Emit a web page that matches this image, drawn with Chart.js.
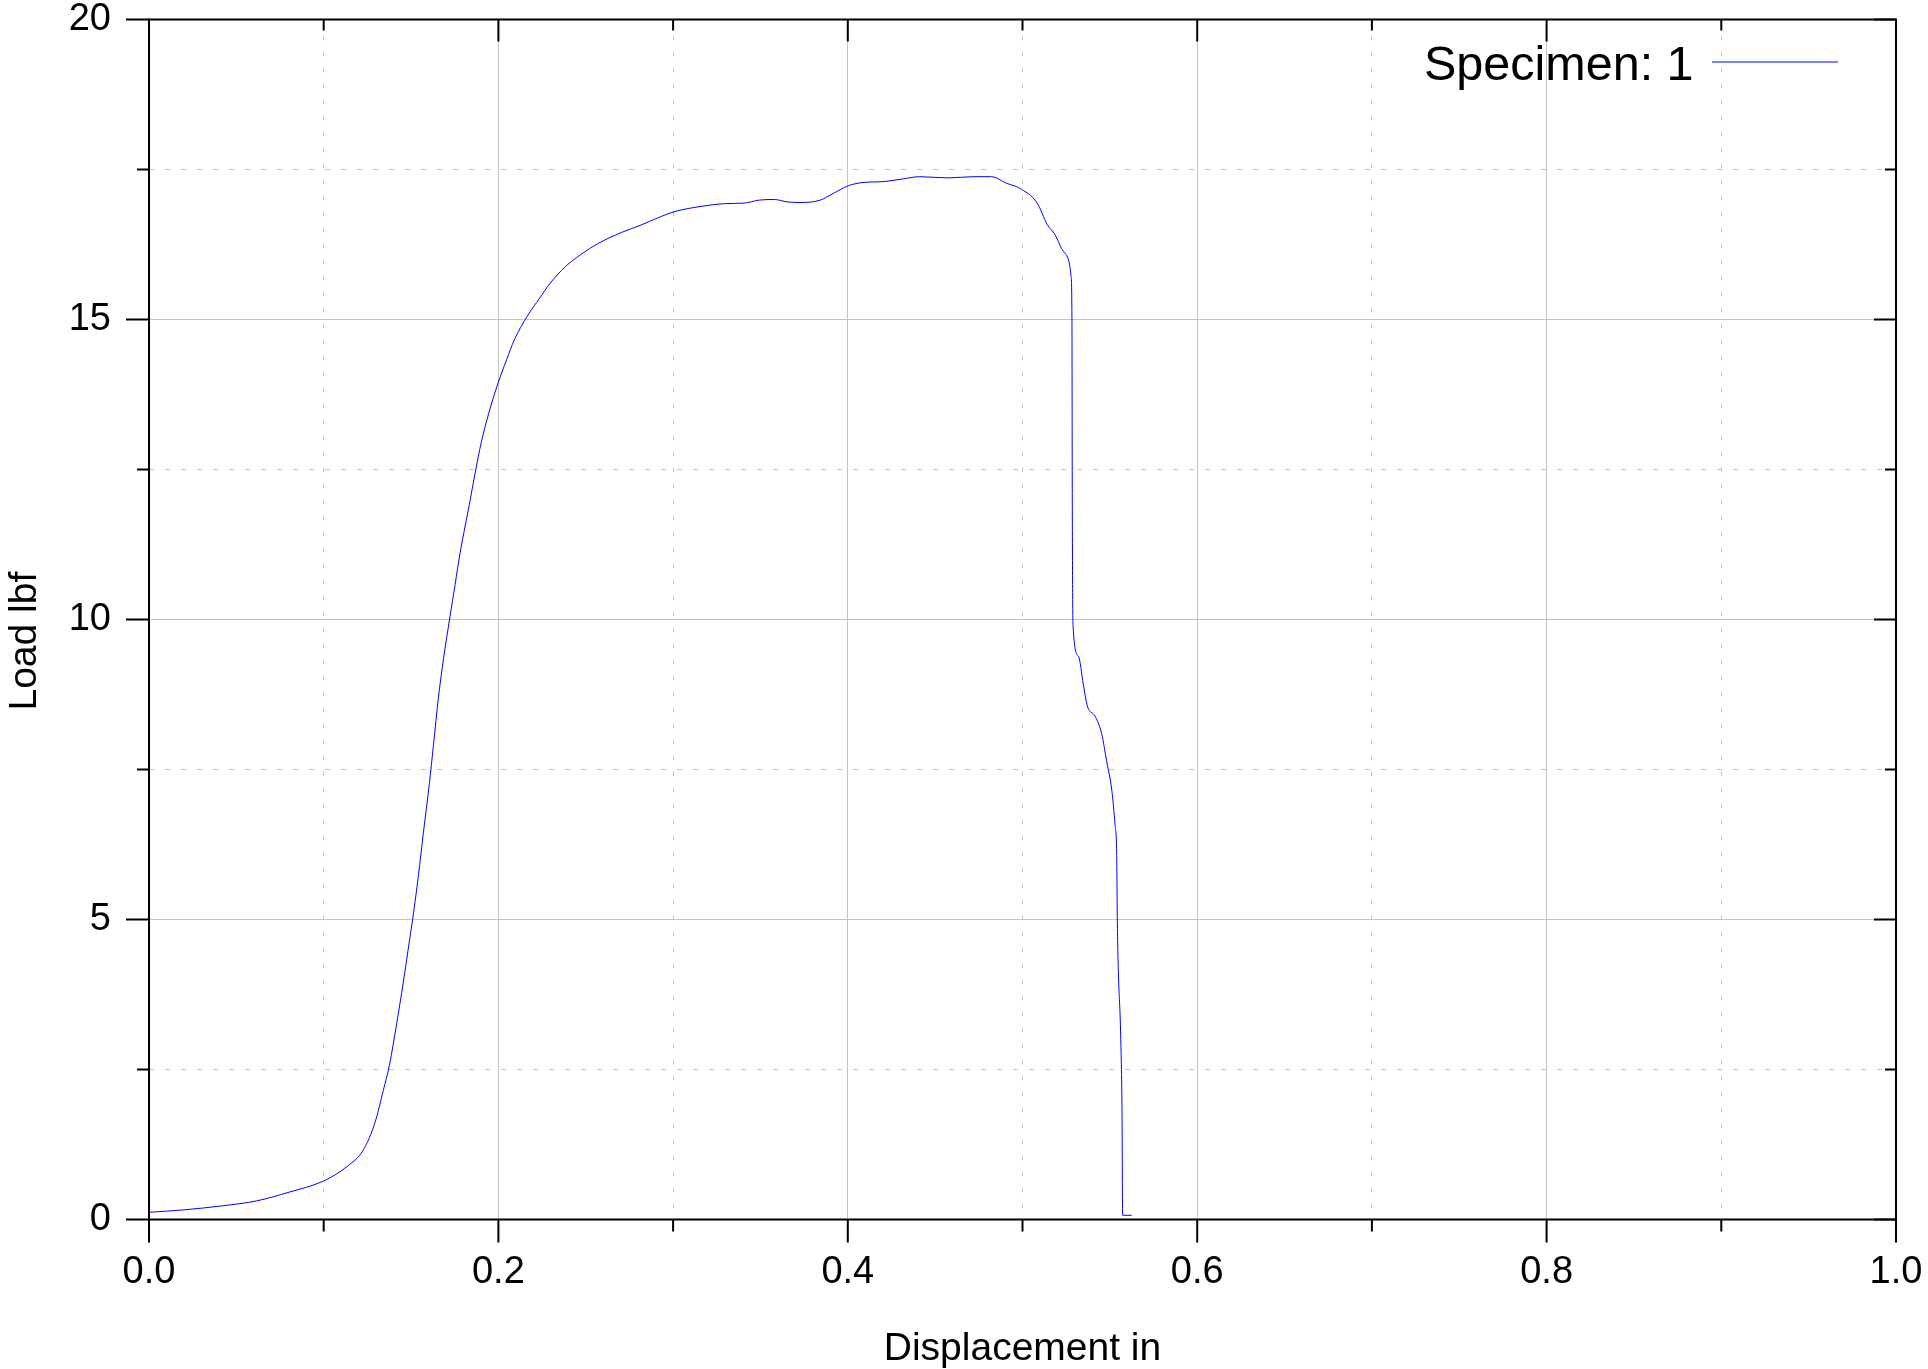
<!DOCTYPE html>
<html>
<head>
<meta charset="utf-8">
<script src="https://cdn.jsdelivr.net/npm/chart.js@4.4.1/dist/chart.umd.min.js"></script>
<style>
  html, body { margin: 0; padding: 0; background: #ffffff; }
  #wrap { width: 1928px; height: 1369px; }
</style>
</head>
<body>
<div id="wrap"><canvas id="c" width="1928" height="1369"></canvas></div>
<script>
// ---- data ----
const seriesLabel = 'Specimen: 1';
const xTitle = 'Displacement in';
const yTitle = 'Load lbf';
const xTickLabels = ['0.0', '0.2', '0.4', '0.6', '0.8', '1.0'];
const yTickLabels = ['0', '5', '10', '15', '20'];

const displacement = [
  0.0000, 0.0197, 0.0425, 0.0616, 0.0807, 0.0998, 0.1132, 0.1227, 0.1294, 0.1341,
  0.1376, 0.1418, 0.1456, 0.1484, 0.1517, 0.1542, 0.1570, 0.1605, 0.1628, 0.1656,
  0.1685, 0.1723, 0.1752, 0.1780, 0.1828, 0.1870, 0.1901, 0.1945, 0.1998, 0.2047,
  0.2091, 0.2164, 0.2237, 0.2295, 0.2383, 0.2470, 0.2573, 0.2704, 0.2821, 0.2909,
  0.3011, 0.3172, 0.3289, 0.3405, 0.3493, 0.3580, 0.3653, 0.3726, 0.3843, 0.3916,
  0.4004, 0.4077, 0.4208, 0.4310, 0.4412, 0.4573, 0.4719, 0.4822, 0.4909, 0.4982,
  0.5084, 0.5142, 0.5187, 0.5224, 0.5262, 0.5278, 0.5283, 0.5285, 0.5289, 0.5320,
  0.5348, 0.5371, 0.5415, 0.5453, 0.5482, 0.5511, 0.5530, 0.5539, 0.5543, 0.5549,
  0.5562, 0.5570, 0.5573, 0.5625
];
const load = [
  0.12, 0.16, 0.23, 0.31, 0.46, 0.64, 0.88, 1.16, 1.62, 2.15,
  2.57, 3.27, 3.96, 4.51, 5.17, 5.73, 6.43, 7.27, 7.90, 8.68,
  9.33, 10.05, 10.58, 11.10, 11.83, 12.49, 12.94, 13.44, 13.94, 14.33,
  14.66, 15.05, 15.36, 15.60, 15.88, 16.08, 16.27, 16.45, 16.58, 16.69,
  16.80, 16.89, 16.93, 16.94, 16.99, 17.00, 16.96, 16.95, 16.99, 17.10,
  17.23, 17.28, 17.30, 17.34, 17.38, 17.36, 17.38, 17.38, 17.27, 17.19,
  16.94, 16.58, 16.41, 16.18, 16.01, 15.72, 15.01, 11.96, 9.91, 9.39,
  8.92, 8.56, 8.39, 8.10, 7.63, 7.16, 6.57, 6.11, 4.93, 4.11,
  3.06, 1.65, 0.07, 0.07
];

// ---- styling ----
const FONT = '"Liberation Sans", Arial, Helvetica, sans-serif';
const GRID = '#c4c4c4';

const isMajorX = v => Math.round(v * 10) % 2 === 0;
const isMajorY = v => Math.round(v * 2) % 2 === 0 && Math.round(v) % 5 === 0;

const frameAndLegend = {
  id: 'frameAndLegend',
  afterDatasetsDraw(chart) {
    const { ctx, chartArea: a, scales: { x, y } } = chart;
    ctx.save();
    ctx.strokeStyle = '#000000';
    ctx.lineWidth = 2;
    ctx.strokeRect(a.left, a.top, a.right - a.left, a.bottom - a.top);
    ctx.beginPath();
    x.ticks.forEach(t => {
      const px = x.getPixelForValue(t.value);
      const major = isMajorX(t.value);
      ctx.moveTo(px, a.bottom); ctx.lineTo(px, a.bottom + (major ? 23 : 12));
      ctx.moveTo(px, a.top); ctx.lineTo(px, a.top + (major ? 22 : 11));
    });
    y.ticks.forEach(t => {
      const py = y.getPixelForValue(t.value);
      const major = isMajorY(t.value);
      ctx.moveTo(a.left - (major ? 23 : 12), py); ctx.lineTo(a.left, py);
      ctx.moveTo(a.right, py); ctx.lineTo(a.right - (major ? 22 : 11), py);
    });
    ctx.stroke();

    // legend inside the plot, text then line sample
    const ds = chart.data.datasets[0];
    ctx.font = '48.5px ' + FONT;
    ctx.fillStyle = '#000000';
    ctx.textAlign = 'left';
    ctx.textBaseline = 'alphabetic';
    ctx.fillText(ds.label, a.right - 472, a.top + 60);
    ctx.strokeStyle = ds.borderColor;
    ctx.lineWidth = 1;
    ctx.beginPath();
    const ly = Math.round(a.top + 42);
    ctx.moveTo(a.right - 184, ly);
    ctx.lineTo(a.right - 58, ly);
    ctx.stroke();
    ctx.restore();
  }
};

new Chart(document.getElementById('c'), {
  type: 'line',
  data: {
    datasets: [{
      label: seriesLabel,
      data: displacement.map((d, i) => ({ x: d, y: load[i] })),
      borderColor: '#0000ff',
      backgroundColor: '#0000ff',
      borderWidth: 1,
      pointRadius: 0,
      fill: false,
      cubicInterpolationMode: 'monotone'
    }]
  },
  options: {
    responsive: false,
    devicePixelRatio: 1,
    animation: false,
    layout: { padding: { left: 0, right: 32, top: 19.5, bottom: 0 } },
    plugins: { legend: { display: false }, tooltip: { enabled: false } },
    scales: {
      x: {
        type: 'linear',
        min: 0, max: 1,
        afterFit(s) { s.height = 149.5; },
        border: {
          display: false,
          dash: ctx => (ctx.tick && !isMajorX(ctx.tick.value)) ? [5, 11] : []
        },
        grid: { color: GRID, lineWidth: 1, drawTicks: true, tickLength: 34, tickColor: 'rgba(0,0,0,0)' },
        ticks: {
          stepSize: 0.1,
          autoSkip: false,
          maxRotation: 0,
          padding: 0,
          color: '#000000',
          font: { family: FONT, size: 38, lineHeight: 1 },
          callback: (v) => isMajorX(v) ? xTickLabels[Math.round(v * 5)] : ''
        },
        title: {
          display: true, text: xTitle, color: '#000000',
          font: { family: FONT, size: 39, lineHeight: 1 },
          padding: { top: 0, bottom: 0 }
        }
      },
      y: {
        type: 'linear',
        min: 0, max: 20,
        afterFit(s) { s.width = 149; },
        border: {
          display: false,
          dash: ctx => (ctx.tick && !isMajorY(ctx.tick.value)) ? [5, 11] : []
        },
        grid: { color: GRID, lineWidth: 1, drawTicks: true, tickLength: 38, tickColor: 'rgba(0,0,0,0)' },
        ticks: {
          stepSize: 2.5,
          autoSkip: false,
          padding: 0,
          color: '#000000',
          font: { family: FONT, size: 38, lineHeight: 1 },
          callback: (v) => isMajorY(v) ? yTickLabels[Math.round(v / 5)] : ''
        },
        title: {
          display: true, text: yTitle + '    ', color: '#000000',
          font: { family: FONT, size: 39, lineHeight: 1 },
          padding: { top: 5.5, bottom: 0 }
        }
      }
    }
  },
  plugins: [frameAndLegend]
});
</script>
</body>
</html>
